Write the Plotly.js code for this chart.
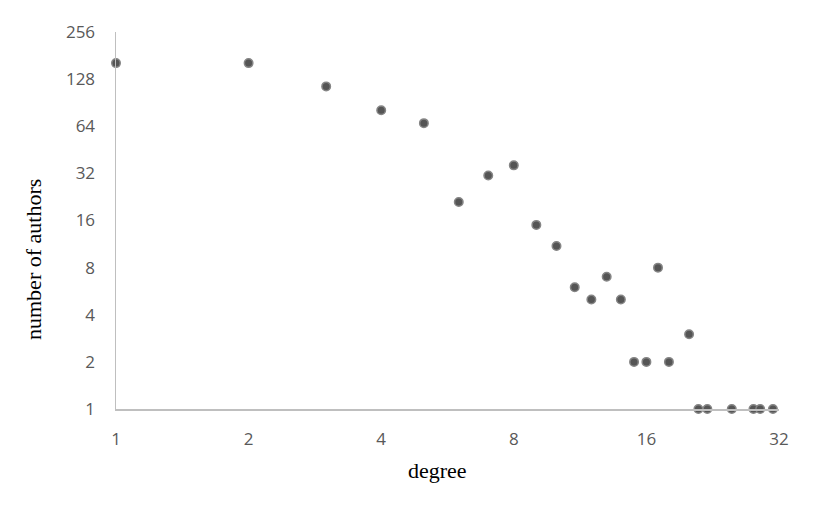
<!DOCTYPE html>
<html>
<head>
<meta charset="utf-8">
<script src="https://cdn.plot.ly/plotly-3.0.1.min.js"></script>
<style>html,body{margin:0;padding:0;background:#fff}#chart{width:830px;height:519px}</style>
</head>
<body>
<div id="chart"></div>
<script>
const degree = [1, 2, 3, 4, 5, 6, 7, 8, 9, 10, 11, 12, 13, 14, 15, 16, 17, 18, 20, 21, 22, 25, 28, 29, 31];
const authors = [162, 162, 115, 81, 67, 21, 31, 36, 15, 11, 6, 5, 7, 5, 2, 2, 8, 2, 3, 1, 1, 1, 1, 1, 1];
const xTicks = [1, 2, 4, 8, 16, 32];
const yTicks = [1, 2, 4, 8, 16, 32, 64, 128, 256];
const xTitle = 'degree';
const yTitle = 'number of authors';

const tickFont = {family: 'Open Sans, Noto Sans, sans-serif', size: 17, color: '#595959'};
const titleFont = {family: 'Liberation Serif, Times New Roman, serif', size: 22, color: '#000'};

const trace = {
  x: degree, y: authors, type: 'scatter', mode: 'markers',
  marker: {size: 8.5, color: '#555555', line: {color: '#858585', width: 1.5}},
  hoverinfo: 'x+y', cliponaxis: false
};

const layout = {
  width: 830, height: 519,
  margin: {l: 116, r: 51, t: 32, b: 110},
  paper_bgcolor: '#fff', plot_bgcolor: '#fff',
  showlegend: false,
  xaxis: {
    type: 'log', range: [0, Math.log10(32)],
    tickvals: xTicks, ticktext: xTicks.map(String),
    showgrid: false, zeroline: false,
    showline: true, linecolor: '#bfbfbf', linewidth: 1.5,
    ticks: 'outside', ticklen: 14, tickcolor: 'rgba(0,0,0,0)',
    tickfont: tickFont
  },
  yaxis: {
    type: 'log', range: [0, Math.log10(256)],
    tickvals: yTicks, ticktext: yTicks.map(String),
    showgrid: false, zeroline: false,
    showline: true, linecolor: '#bfbfbf', linewidth: 1.5,
    ticks: 'outside', ticklen: 16, tickcolor: 'rgba(0,0,0,0)',
    tickfont: tickFont
  },
  annotations: [
    {text: xTitle, xref: 'paper', yref: 'paper', x: (437 - 116) / (830 - 116 - 51), y: -(470 - 409) / (519 - 32 - 110),
     xanchor: 'center', yanchor: 'middle', showarrow: false, font: titleFont},
    {text: yTitle, xref: 'paper', yref: 'paper', x: -(116 - 33) / (830 - 116 - 51), y: (409 - 260) / (519 - 32 - 110),
     xanchor: 'center', yanchor: 'middle', showarrow: false, textangle: -90, font: titleFont}
  ]
};

Plotly.newPlot('chart', [trace], layout, {displayModeBar: false, staticPlot: true});
</script>
</body>
</html>
